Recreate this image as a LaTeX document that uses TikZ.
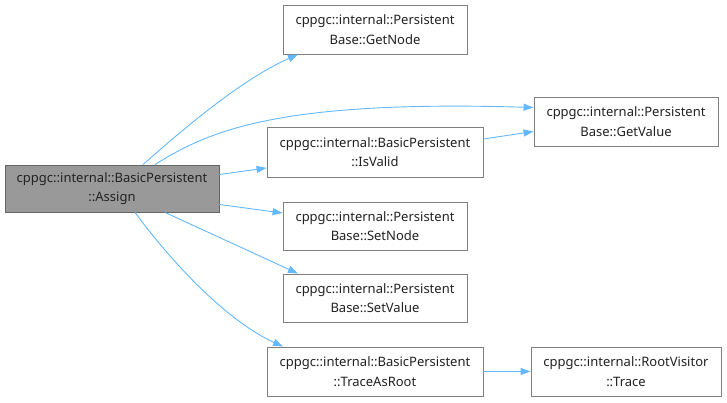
\documentclass[tikz,border=0pt]{standalone}
\usepackage{fontspec}
\setmainfont{Noto Sans}
\usetikzlibrary{arrows.meta,calc}
\definecolor{edgeblue}{HTML}{63B8FF}
\definecolor{boxborder}{HTML}{808080}
\definecolor{mainfill}{HTML}{999999}
\definecolor{mainborder}{HTML}{666666}
\definecolor{txt}{HTML}{222222}
\tikzset{
  fn/.style={draw=boxborder, line width=0.9pt, fill=white, inner sep=0pt, align=center,
     font=\fontsize{13pt}{19.5pt}\selectfont, text=txt},
  mainfn/.style={fn, fill=mainfill, draw=mainborder},
  call/.style={draw=edgeblue, line width=0.9pt, -{Triangle[length=10pt,width=7pt]}},
}
\begin{document}
\begin{tikzpicture}[x=1pt,y=-1pt]
\useasboundingbox (0,0) rectangle (727,402);
% nodes: center at pixel coords
\node[mainfn, minimum width=214pt, minimum height=47pt] (assign) at (112,188.5) {cppgc::internal::BasicPersistent\\::Assign};
\node[fn, minimum width=184pt, minimum height=49pt] (getnode) at (375,29.5) {cppgc::internal::Persistent\\Base::GetNode};
\node[fn, minimum width=184pt, minimum height=49pt] (getvalue) at (626,121.5) {cppgc::internal::Persistent\\Base::GetValue};
\node[fn, minimum width=216pt, minimum height=50pt] (isvalid) at (375,152) {cppgc::internal::BasicPersistent\\::IsValid};
\node[fn, minimum width=184pt, minimum height=48pt] (setnode) at (375,226) {cppgc::internal::Persistent\\Base::SetNode};
\node[fn, minimum width=184pt, minimum height=48pt] (setvalue) at (375,298) {cppgc::internal::Persistent\\Base::SetValue};
\node[fn, minimum width=216pt, minimum height=49pt] (traceroot) at (375,371.5) {cppgc::internal::BasicPersistent\\::TraceAsRoot};
\node[fn, minimum width=190pt, minimum height=49pt] (trace) at (626,371.5) {cppgc::internal::RootVisitor\\::Trace};
% edges
\draw[call] ([xshift=31pt]assign.north) .. controls (180,132) and (240,80) .. ([xshift=-77pt]getnode.south);
\draw[call] ([xshift=43pt]assign.north) .. controls (210,130) and (280,100) .. ([yshift=14pt]getvalue.west);
\draw[call] ([yshift=14pt]assign.east) -- ([yshift=-16pt]isvalid.west);
\draw[call] ([yshift=13pt]isvalid.east) -- ([yshift=-10pt]getvalue.west);
\draw[call] ([yshift=-16pt]assign.east) -- ([yshift=13pt]setnode.west);
\draw[call] ([xshift=53pt]assign.south) -- ([xshift=-77pt]setvalue.north);
\draw[call] ([xshift=23pt]assign.south) .. controls (170,260) and (225,320) .. ([xshift=-92pt]traceroot.north);
\draw[call] (traceroot.east) -- (trace.west);
\end{tikzpicture}
\end{document}
